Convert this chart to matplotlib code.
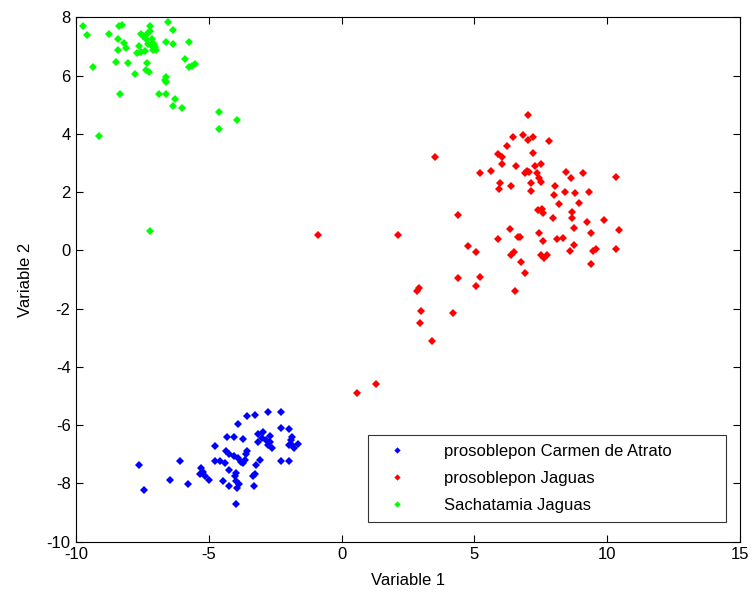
import matplotlib
matplotlib.use("Agg")
import matplotlib.pyplot as plt

plt.rcParams['font.family'] = ['Liberation Sans', 'DejaVu Sans']
plt.rcParams['axes.unicode_minus'] = False

blue_x = [-7.63, -7.45, -6.48, -6.08, -5.78, -5.31, -5.35, -5.23, -5.16, -4.98,
          -4.78, -4.76, -4.58, -4.38, -4.48, -4.23, -4.23, -3.96, -4.31, -4.06,
          -3.91, -3.71, -3.56, -3.26, -2.78, -2.28, -4.35, -4.23, -4.06, -3.91,
          -3.78, -3.63, -3.61, -3.56, -3.73, -3.98, -4.03, -3.96, -3.88, -3.93,
          -3.23, -3.26, -3.33, -3.31, -3.08, -3.16, -2.96, -3.16, -3.01, -2.86,
          -2.69, -2.76, -2.63, -2.71, -2.28, -1.99, -2.28, -1.99, -1.91, -1.86,
          -1.99, -1.81, -1.64, -1.86]
blue_y = [-7.38, -8.24, -7.87, -7.22, -8.02, -7.47, -7.68, -7.61, -7.76, -7.87,
          -6.70, -7.22, -7.22, -7.30, -7.90, -8.07, -7.54, -8.71, -6.42, -6.42,
          -5.96, -6.47, -5.70, -5.64, -5.53, -5.53, -6.88, -7.00, -7.05, -7.11,
          -7.25, -7.20, -6.98, -6.88, -7.31, -7.65, -7.76, -7.90, -8.02, -8.14,
          -7.38, -7.68, -7.73, -8.07, -7.20, -6.31, -6.22, -6.56, -6.44, -6.50,
          -6.36, -6.67, -6.79, -6.58, -6.10, -6.12, -7.22, -7.22, -6.52, -6.68,
          -6.68, -6.79, -6.63, -6.42]

red_x = [-0.89, 2.13, 3.51, 4.38, 4.78, 5.08, 4.38, 5.23, 5.08, 2.86,
         2.91, 5.23, 5.63, 5.88, 6.03, 6.06, 6.23, 6.45, 6.85, 7.03,
         7.03, 7.20, 7.83, 7.20, 6.58, 6.90, 7.00, 7.07, 7.27, 7.50,
         7.38, 7.45, 7.50, 7.15, 7.15, 5.98, 5.93, 6.40, 8.45, 8.65,
         9.10, 10.33, 8.05, 8.00, 8.40, 8.80, 9.33, 8.18, 8.93, 7.40,
         7.55, 7.60, 7.95, 8.70, 8.70, 9.23, 9.90, 8.75, 9.38, 10.47,
         6.33, 6.63, 6.73, 5.88, 7.43, 7.60, 8.13, 8.35, 8.75, 8.60,
         9.47, 9.60, 10.35, 9.38, 6.40, 6.50, 7.50, 7.73, 7.63, 6.75,
         6.93, 6.52, 3.01, 2.96, 4.21, 3.41, 1.29, 0.59]
red_y = [0.53, 0.53, 3.21, 1.21, 0.15, -0.06, -0.96, -0.90, -1.21, -1.38,
         -1.30, 2.64, 2.73, 3.30, 3.19, 2.96, 3.58, 3.90, 3.95, 4.64,
         3.78, 3.89, 3.74, 3.33, 2.89, 2.66, 2.73, 2.68, 2.91, 2.96,
         2.64, 2.50, 2.35, 2.30, 2.05, 2.32, 2.09, 2.20, 2.70, 2.47,
         2.64, 2.53, 2.20, 1.90, 2.01, 1.96, 2.01, 1.59, 1.63, 1.38,
         1.42, 1.29, 1.10, 1.33, 1.10, 0.98, 1.06, 0.76, 0.58, 0.69,
         0.72, 0.47, 0.47, 0.38, 0.58, 0.31, 0.38, 0.44, 0.17, -0.02,
         -0.02, 0.05, 0.05, -0.47, -0.16, -0.06, -0.16, -0.16, -0.26, -0.39,
         -0.79, -1.38, -2.07, -2.48, -2.16, -3.12, -4.59, -4.91]

green_x = [-9.75, -9.58, -9.35, -9.13, -8.78, -8.40, -8.28, -8.42, -8.20, -8.13,
           -8.42, -8.48, -8.03, -8.33, -7.80, -7.63, -7.70, -7.55, -7.55, -7.48,
           -7.38, -7.33, -7.23, -7.21, -7.31, -7.40, -7.33, -7.38, -7.25, -7.23,
           -7.13, -7.08, -7.03, -6.98, -7.10, -7.18, -6.88, -6.63, -6.63, -6.65,
           -6.60, -6.63, -6.53, -6.35, -6.35, -6.28, -6.35, -6.00, -5.91, -5.73,
           -5.73, -5.63, -5.53, -4.63, -4.63, -3.93]
green_y = [7.69, 7.38, 6.28, 3.94, 7.44, 7.69, 7.74, 7.27, 7.12, 6.96,
           6.89, 6.48, 6.43, 5.38, 6.07, 7.01, 6.78, 6.81, 7.44, 7.35,
           7.27, 7.44, 7.69, 7.53, 7.10, 6.85, 6.43, 6.18, 6.11, 0.67,
           7.27, 7.10, 6.98, 6.89, 6.89, 7.05, 5.38, 7.14, 5.38, 5.86,
           5.94, 5.78, 7.85, 7.58, 7.07, 5.21, 4.95, 4.90, 6.58, 7.14,
           6.28, 6.33, 6.40, 4.74, 4.17, 4.47]

labels = ['prosoblepon Carmen de Atrato', 'prosoblepon Jaguas', 'Sachatamia Jaguas']
colors = ['#0000ff', '#ff0000', '#00ff00']

xticks = [-10, -5, 0, 5, 10, 15]
yticks = [-10, -8, -6, -4, -2, 0, 2, 4, 6, 8]

fig = plt.figure(figsize=(7.54, 5.96), dpi=100)
ax = fig.add_axes([0.101, 0.091, 0.880, 0.880])

for xs, ys, c, lab in zip([blue_x, red_x, green_x], [blue_y, red_y, green_y], colors, labels):
    ax.plot(xs, ys, linestyle='none', marker='D', markersize=4.0, color=c,
            markeredgewidth=0, label=lab)

ax.set_xlim(-10, 15)
ax.set_ylim(-10, 8)
ax.set_xticks(xticks)
ax.set_yticks(yticks)
ax.tick_params(direction='in', top=True, right=True, labelsize=12, length=5,
               width=0.8, colors='black', pad=4)
for s in ax.spines.values():
    s.set_linewidth(0.8)
ax.set_xlabel('Variable 1', fontsize=12, labelpad=8)
ax.set_ylabel('Variable 2', fontsize=12, labelpad=10)

leg = ax.legend(loc='lower left', bbox_to_anchor=(0.44, 0.038, 0.54, 0.18), mode='expand',
                fontsize=12, frameon=True, fancybox=False, edgecolor='black',
                borderaxespad=0, handletextpad=1.6, handlelength=2.4, markerscale=0.8,
                labelspacing=0.72, borderpad=0.55)
leg.get_frame().set_linewidth(0.8)

fig.savefig('out.png', dpi=100)
